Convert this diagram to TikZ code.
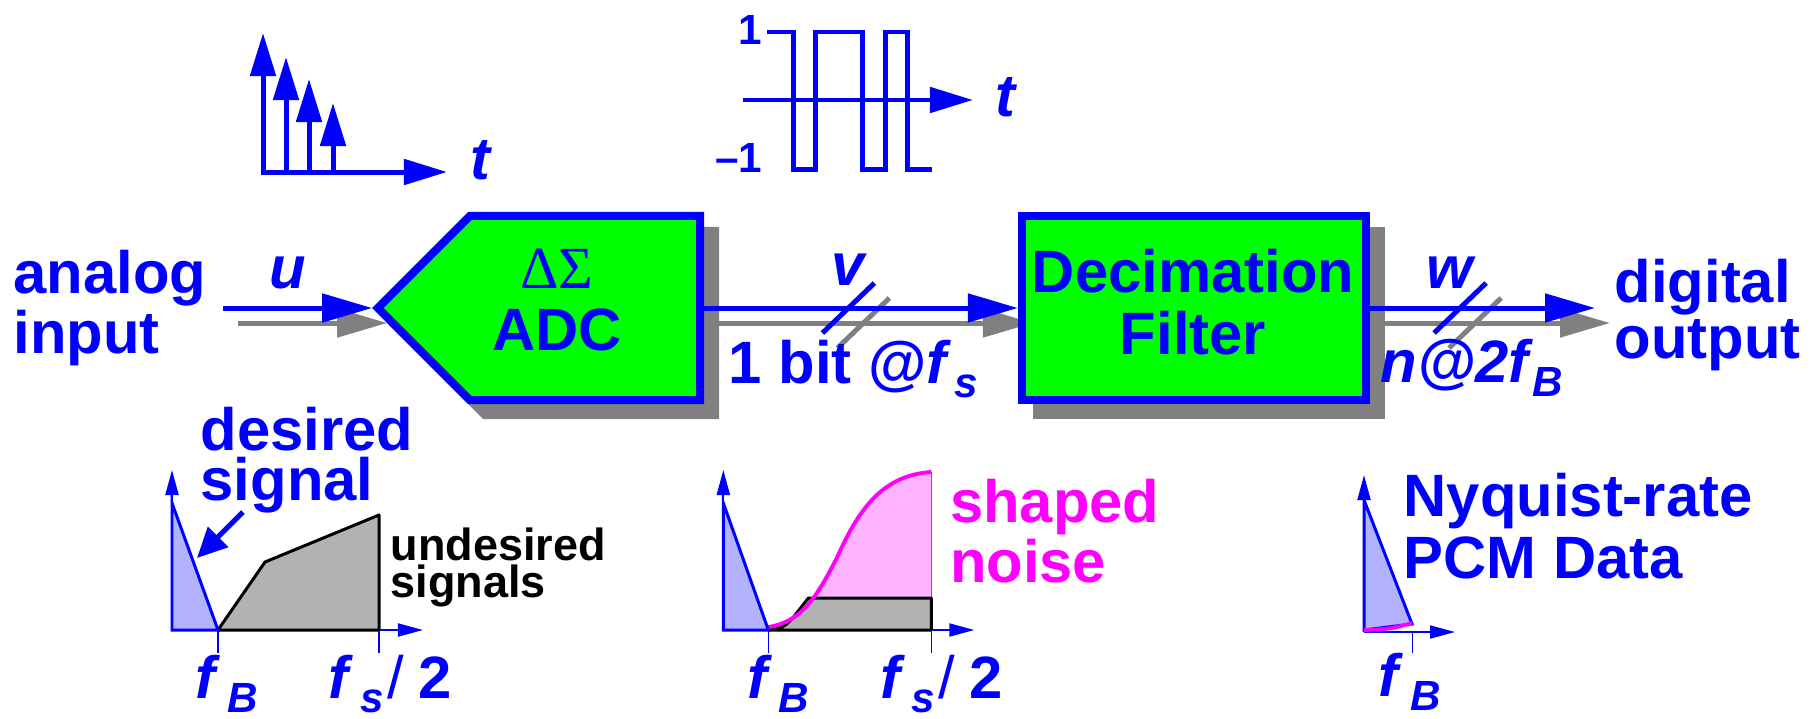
\documentclass[tikz,border=0pt]{standalone}
\usepackage{fontspec}
\setmainfont{Liberation Sans}
\newfontfamily\grkfont{Liberation Serif}
\usepackage{tikz}
\usetikzlibrary{positioning,arrows.meta,shapes.symbols,shadows,calc,backgrounds}

\definecolor{sigblue}{RGB}{0,0,255}
\definecolor{boxgreen}{RGB}{0,255,0}
\definecolor{shadegray}{RGB}{128,128,128}
\definecolor{bandblue}{RGB}{178,178,255}
\definecolor{noisepink}{RGB}{255,0,255}
\definecolor{noisefill}{RGB}{255,178,255}
\definecolor{junkgray}{RGB}{178,178,178}

\newcommand{\ivar}[1]{\textit{#1}}
\newcommand{\subtxt}[1]{\raisebox{-0.25em}{\fontsize{12}{12}\selectfont #1}}

\begin{document}
\begin{tikzpicture}[
  x=0.01cm, y=-0.01cm,
  font=\fontsize{17}{15}\selectfont\bfseries,
  txt/.style={inner sep=0pt, text=sigblue, align=left},
  ital/.style={txt, font=\fontsize{17}{17}\selectfont\bfseries\itshape},
  lvl/.style={txt, font=\fontsize{12}{12}\selectfont\bfseries},
  blk/.style={
    draw=sigblue, line width=2.3pt, fill=boxgreen,
    minimum height=1.84cm, inner sep=0pt,
    drop shadow={shadow xshift=0.15cm, shadow yshift=-0.15cm,
      fill=shadegray, draw=shadegray, line width=2.3pt, opacity=1}
  },
  blktxt/.style={txt, align=center, font=\fontsize{17}{17.5}\selectfont\bfseries},
  adc/.style={blk, signal, signal to=west, signal pointer angle=90, minimum width=3.22cm},
  dec/.style={blk, rectangle, minimum width=3.44cm},
  sig/.style={line width=1.42pt, sigblue, -{Triangle[length=0.5cm,width=0.28cm]}},
  sigsh/.style={sig, shadegray, transform canvas={xshift=0.15cm, yshift=-0.15cm}},
  bus/.style={line width=1.42pt, sigblue},
  bussh/.style={bus, shadegray, transform canvas={xshift=0.15cm, yshift=-0.15cm}},
  wave/.style={line width=1.42pt, sigblue},
  imp/.style={wave, -{Triangle[length=0.43cm,width=0.25cm]}},
  ax/.style={line width=0.57pt, sigblue, -{Triangle[length=0.25cm,width=0.13cm]}},
  tick/.style={line width=0.3pt, sigblue},
  band/.style={fill=bandblue, draw=sigblue, line width=0.85pt},
  junk/.style={fill=junkgray, draw=black, line width=0.85pt, line join=round},
  noise/.style={draw=noisepink, line width=1.1pt},
  ptr/.style={line width=1.42pt, sigblue, -{Triangle[length=0.3cm,width=0.28cm]}}
]
\useasboundingbox (0,0) rectangle (1819,718);

% --- impulse train ---
\draw[wave, {Triangle[length=0.43cm,width=0.25cm]}-{Triangle[length=0.43cm,width=0.25cm]}]
  (263,33) -- (263,172) -- (447,172);
\foreach \x/\y in {286/57, 309/79, 333/103}
  \draw[imp] (\x,172) -- (\x,\y);
\node[ital] (t1) at (480,160) {t};

% --- one-bit stream ---
\draw[imp] (743,100) -- (973,100);
\draw[wave] (767,32) -- (793,32) -- (793,169) -- (815,169) -- (815,32) -- (862,32)
  -- (862,169) -- (885,169) -- (885,32) -- (907,32) -- (907,169) -- (932,169);
\node[lvl, anchor=east] (hi) at (763,30) {1};
\node[lvl, anchor=east] (lo) at (763,158) {–1};
\node[ital] (t2) at (1005,97) {t};

% --- blocks ---
\node[adc] (adc) at (585,308) {};
\node[blktxt] (adclbl) at ($(adc.center)+(-28,-8)$) {{\grkfont\mdseries ΔΣ}\\ADC};
\node[dec] (dec) at (1194,308) {};
\node[blktxt] (declbl) at ($(dec.center)+(-1,-6)$) {Decimation\\Filter};

% --- signal path ---
\coordinate (in) at (223,308);
\coordinate (out) at (1595,308);
\path (adc.east) -- coordinate[pos=0.46] (vs) (dec.west);
\path (dec.east) -- coordinate[pos=0.40] (ws) (out);
\begin{scope}[on background layer]
  \foreach \from/\to in {in/adc.west, adc.east/dec.west, dec.east/out}
    \draw[sigsh] (\from) -- (\to);
  \foreach \s in {vs, ws}
    \draw[bussh] ($(\s)+(-26,25)$) -- ($(\s)+(26,-25)$);
\end{scope}
\foreach \from/\to in {in/adc.west, adc.east/dec.west, dec.east/out}
  \draw[sig] (\from) -- (\to);
\foreach \s in {vs, ws}
  \draw[bus] ($(\s)+(-26,25)$) -- ($(\s)+(26,-25)$);

% --- labels on the path ---
\node[txt, font=\fontsize{17}{15.1}\selectfont\bfseries, anchor=base west] (ain) at (13,353) {analog\\input};
\node[txt, font=\fontsize{17}{15.9}\selectfont\bfseries, anchor=base west] (dout) at (1614,358) {digital\\output};
\node[ital] (ulbl) at (288,273) {u};
\node[ital] (vlbl) at (848,270) {v};
\node[ital] (wlbl) at (1450,273) {w};
\node[txt, anchor=base west] (rate1) at (728,383) {1 bit @\ivar{f}\kern1pt\subtxt{\ivar{s}}};
\node[ital, anchor=base west] (rate2) at (1380,382) {n@2f\kern1pt\subtxt{B}};

% --- spectrum at the input ---
\draw[ax] (172,630) -- (172,470);
\draw[ax] (172,630) -- (423,630);
\draw[tick] (218,630) -- (218,653);
\draw[tick] (379,630) -- (379,653);
\draw[junk] (218,630) -- (265,562) -- (379,515) -- (379,630) -- cycle;
\filldraw[band] (172,630) -- (172,503) -- (218,630) -- cycle;
\node[txt, font=\fontsize{17}{14.2}\selectfont\bfseries, anchor=base west] (want) at (200,500) {desired\\signal};
\node[txt, text=black, font=\fontsize{12.8}{10.5}\selectfont\bfseries, anchor=base west] (junktxt) at (390,597) {undesired\\signals};
\coordinate (dtail) at (243,512);
\coordinate (dtip) at (197,558);
\draw[ptr] (dtail) -- (dtip);
\node[txt, anchor=base west] (fb1) at (195,698) {\ivar{f}\kern2pt\subtxt{\ivar{B}}};
\node[txt, anchor=base west] (fs1) at (328,698) {\ivar{f}\kern2pt\subtxt{\ivar{s}}\kern1pt{\mdseries/}\kern4pt2};

% --- spectrum at the modulator output ---
\begin{scope}[xshift=5.51cm]
  \draw[ax] (172,630) -- (172,470);
  \draw[ax] (172,630) -- (423,630);
  \draw[tick] (217,630) -- (217,653);
  \draw[tick] (380,630) -- (380,653);
  \fill[noisefill] (172,630) -- (217,627) .. controls (249,622) and (264,600) .. (286,557)
    .. controls (309,505) and (334,475) .. (380,472) -- (380,630) -- cycle;
  \draw[noisepink, line width=0.4pt] (380,472) -- (380,598);
  \draw[junk] (217,630) .. controls (234,628) .. (257,598) -- (380,598) -- (380,630) -- cycle;
  \draw[noise] (172,629) -- (217,627) .. controls (249,622) and (264,600) .. (286,557)
    .. controls (309,505) and (334,475) .. (380,472);
  \filldraw[band] (172,630) -- (172,503) -- (217,630) -- cycle;
  \node[txt, text=noisepink, font=\fontsize{17}{12.8}\selectfont\bfseries, anchor=base west] (ntxt) at (398,582) {shaped\\noise};
  \node[txt, anchor=base west] (fb2) at (195,698) {\ivar{f}\kern2pt\subtxt{\ivar{B}}};
  \node[txt, anchor=base west] (fs2) at (328,698) {\ivar{f}\kern2pt\subtxt{\ivar{s}}\kern1pt{\mdseries/}\kern4pt2};
\end{scope}

% --- spectrum at the output ---
\draw[ax] (1364,632) -- (1364,475);
\draw[ax] (1364,632) -- (1455,632);
\draw[tick] (1412,632) -- (1412,653);
\filldraw[band] (1364,630) -- (1364,500) -- (1412,624) -- cycle;
\draw[noise] (1364,630) .. controls (1390,629) .. (1412,623);
\node[txt, font=\fontsize{17}{17.4}\selectfont\bfseries, anchor=base west] (pcm) at (1403,578) {Nyquist-rate\\PCM Data};
\node[txt, anchor=base west] (fb3) at (1378,696) {\ivar{f}\kern2pt\subtxt{\ivar{B}}};

\end{tikzpicture}
\end{document}
